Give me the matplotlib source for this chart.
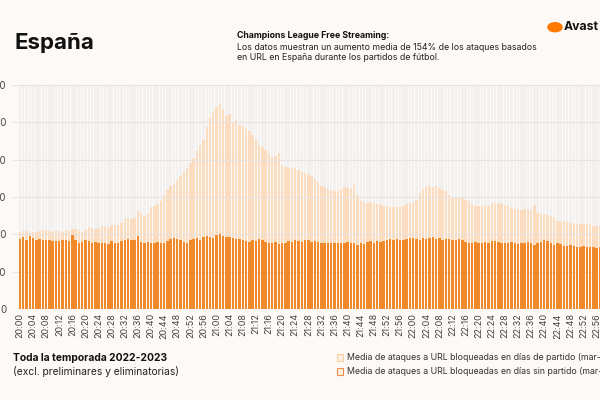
import matplotlib.pyplot as plt
from matplotlib.patches import Rectangle, Circle
import numpy as np

plt.rcParams['font.family'] = ['Inter', 'DejaVu Sans']

# minutos de 20:00 a 22:59
minutos = [f"{20 + m // 60}:{m % 60:02d}" for m in range(180)]

# media en días de partido (mar-mié)
con_partido = [
    205, 210, 208, 204, 206, 207, 210, 212, 211, 208,
    206, 208, 210, 207, 212, 208, 214, 215, 212, 205,
    212, 220, 216, 214, 218, 222, 220, 218, 225, 226,
    226, 230, 240, 244, 242, 245, 263, 258, 250, 255,
    272, 275, 281, 290, 306, 318, 330, 338, 346, 356,
    368, 378, 391, 405, 422, 438, 453, 488, 512, 528,
    540, 550, 535, 518, 522, 500, 505, 493, 490, 482,
    476, 466, 455, 440, 435, 426, 418, 408, 410, 419,
    386, 380, 378, 378, 378, 372, 368, 364, 362, 355,
    348, 340, 330, 326, 322, 318, 315, 316, 322, 327,
    324, 324, 332, 306, 290, 287, 285, 286, 284, 281,
    280, 276, 275, 274, 274, 273, 274, 276, 281, 283,
    285, 292, 311, 322, 327, 330, 328, 330, 325, 320,
    316, 306, 298, 297, 296, 296, 292, 288, 280, 276,
    276, 276, 278, 276, 283, 284, 283, 280, 279, 278,
    270, 268, 268, 266, 268, 268, 265, 279, 258, 255,
    254, 252, 248, 246, 236, 234, 235, 233, 230, 229,
    228, 228, 227, 228, 225, 222, 221, 221, 220, 220,
]

# media en días sin partido
sin_partido = [
    188, 192, 186, 195, 190, 185, 187, 186, 184, 186,
    182, 183, 181, 184, 185, 182, 198, 186, 178, 180,
    185, 182, 178, 180, 177, 176, 178, 175, 182, 178,
    176, 181, 184, 187, 186, 184, 195, 180, 178, 180,
    177, 178, 180, 176, 178, 183, 187, 190, 188, 186,
    180, 178, 185, 188, 190, 186, 192, 195, 194, 190,
    198, 200, 195, 192, 194, 190, 188, 188, 186, 183,
    180, 184, 182, 187, 184, 180, 178, 176, 180, 174,
    177, 178, 182, 180, 185, 182, 180, 184, 186, 180,
    182, 180, 178, 178, 176, 177, 176, 177, 178, 176,
    179, 178, 176, 172, 178, 175, 180, 182, 178, 182,
    180, 182, 185, 187, 184, 188, 186, 185, 187, 190,
    189, 188, 186, 190, 188, 190, 192, 188, 190, 186,
    188, 187, 186, 184, 188, 184, 180, 176, 178, 180,
    176, 177, 180, 178, 182, 181, 179, 178, 176, 178,
    180, 176, 174, 177, 178, 180, 176, 172, 176, 180,
    184, 182, 178, 172, 176, 175, 170, 168, 172, 170,
    166, 166, 168, 165, 166, 167, 164, 165, 163, 166,
]

y_ticks = [0, 100, 200, 300, 400, 500, 600]

bg = '#fcf9f6'
naranja = '#f0892a'
naranja_claro = '#fbdcbf'

fig = plt.figure(figsize=(6, 4), dpi=100, facecolor=bg)
ax = fig.add_axes([0.0223, 0.2275, 0.994, 0.56])
ax.set_facecolor(bg)

x = np.arange(len(minutos))
ax.bar(x, [600] * len(x), width=0.74, color='#f3f1f0', zorder=1)
ax.bar(x, con_partido, width=0.74, color=naranja_claro, zorder=2)
ax.bar(x, sin_partido, width=0.74, color=naranja, zorder=3)

ax.set_xlim(-2, 180)
ax.set_ylim(0, 600)
ax.set_yticks(y_ticks)
ax.set_yticklabels([str(v) for v in y_ticks], fontsize=7, color='#444444')
ax.set_xticks(x[::4])
ax.set_xticklabels(minutos[::4], rotation=90, fontsize=6.5, color='#444444')
ax.tick_params(length=0, pad=3)
ax.tick_params(axis='y', pad=5)
ax.grid(axis='y', color='#e6e3e0', linewidth=0.8, zorder=1.5)
ax.set_axisbelow(False)
for s in ax.spines.values():
    s.set_visible(False)

fig.text(0.025, 0.893, "España", fontsize=16, fontweight='bold', color='#111111', va='center')
fig.text(0.395, 0.91, "Champions League Free Streaming:", fontsize=6.3, fontweight='bold',
         color='#111111', va='center')
fig.text(0.395, 0.882, "Los datos muestran un aumento media de 154% de los ataques basados",
         fontsize=6.3, color='#222222', va='center')
fig.text(0.395, 0.855, "en URL en España durante los partidos de fútbol.",
         fontsize=6.3, color='#222222', va='center')

# logo Avast
fig.patches.append(Circle((0.925, 0.932), 0.013, transform=fig.transFigure,
                          facecolor='#ff7800', edgecolor='none'))
fig.text(0.94, 0.932, "Avast", fontsize=8.8, fontweight='bold', color='#111111', va='center')

fig.text(0.022, 0.105, "Toda la temporada 2022-2023", fontsize=7.4, fontweight='bold',
         color='#111111', va='center')
fig.text(0.022, 0.072, "(excl. preliminares y eliminatorias)", fontsize=7.4,
         color='#222222', va='center')

fig.patches.append(Rectangle((0.561, 0.098), 0.011, 0.016, transform=fig.transFigure,
                             facecolor='#fdeedd', edgecolor='#f7cfa6', linewidth=0.8))
fig.patches.append(Rectangle((0.561, 0.063), 0.011, 0.016, transform=fig.transFigure,
                             facecolor='#fdeedd', edgecolor='#e9904a', linewidth=0.8))
fig.text(0.579, 0.106, "Media de ataques a URL bloqueadas en días de partido (mar-mié)",
         fontsize=6.3, color='#333333', va='center')
fig.text(0.579, 0.071, "Media de ataques a URL bloqueadas en días sin partido (mar-mié)",
         fontsize=6.3, color='#333333', va='center')

fig.savefig("out.png", dpi=100, facecolor=bg)
